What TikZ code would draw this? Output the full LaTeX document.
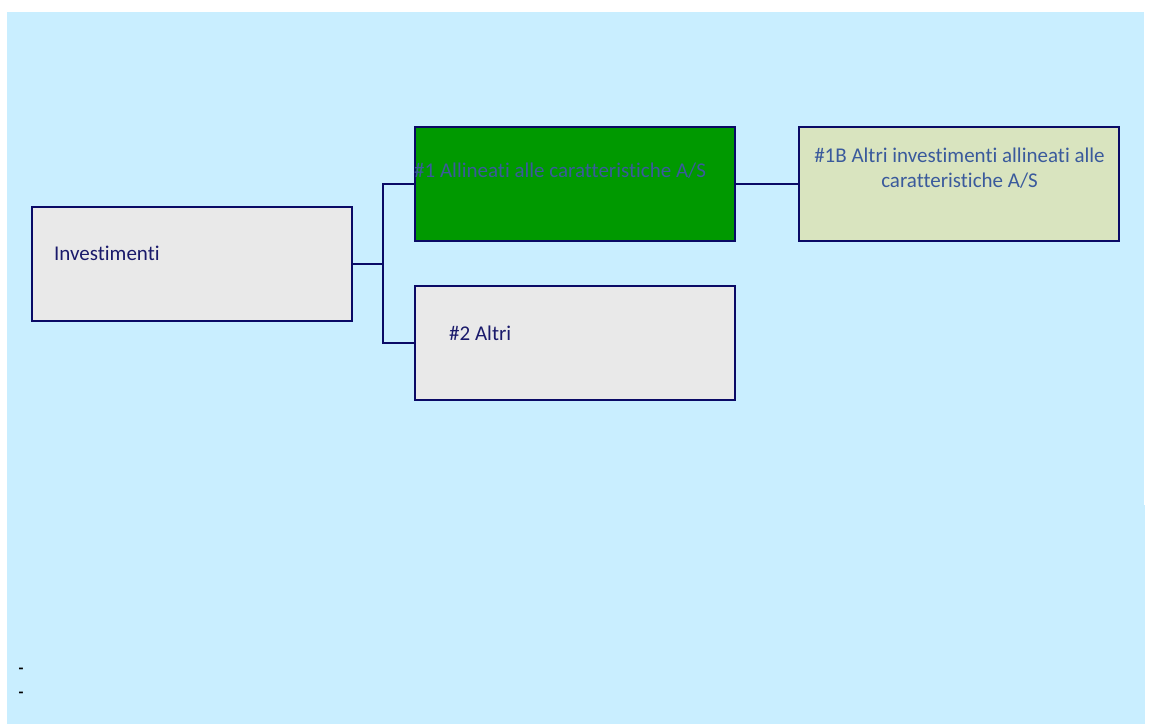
\documentclass[tikz,border=0pt]{standalone}
\usepackage{fontspec}
\setmainfont{Carlito}[Ligatures={NoCommon}]
\definecolor{bgblue}{HTML}{C9EEFF}
\definecolor{navy}{HTML}{0A0A66}
\definecolor{boxgrey}{HTML}{E9E9E9}
\definecolor{boxgreen}{HTML}{009900}
\definecolor{boxolive}{HTML}{D9E4BF}
\definecolor{txtnavy}{HTML}{1A1A6B}
\definecolor{txtblue}{HTML}{3A5A9C}
\tikzset{
  box/.style={draw=navy, line width=2pt, rectangle, minimum width=320pt, minimum height=114pt, inner sep=0pt, outer sep=0pt},
  conn/.style={draw=navy, line width=2pt},
  lbl/.style={font=\fontsize{21}{24.5}\selectfont, inner sep=0pt},
  dashmark/.style={font=\fontsize{16}{18}\selectfont\bfseries, inner sep=0pt, text=black}
}
\begin{document}
\begin{tikzpicture}[x=1pt,y=-1pt]
\useasboundingbox (0,0) rectangle (1149,724);
\fill[white] (0,0) rectangle (1149,724);
\fill[bgblue] (7,12) rectangle (1144,724);
\fill[bgblue] (7,505) rectangle (1145,724);
% boxes
\node[box, fill=boxgrey] (inv) at (192,264) {};
\node[box, fill=boxgreen] (a1) at (575,184) {};
\node[box, fill=boxolive] (a1b) at (959,184) {};
\node[box, fill=boxgrey] (a2) at (575,343) {};
% texts
\node[lbl, text=txtnavy, anchor=west] (invt) at (54,253.5) {Investimenti};
\node[lbl, text=txtblue, anchor=west] (a1t) at (414,171) {\#1 Allineati alle caratteristiche A/S};
\node[lbl, text=txtblue, align=center] (a1bt) at (959.5,168) {\#1B Altri investimenti allineati alle\\caratteristiche A/S};
\node[lbl, text=txtnavy, anchor=west] (a2t) at (449,333) {\#2 Altri};
% connectors
\coordinate (j) at (383,264);
\draw[conn] (inv.east) -- (j);
\draw[conn] (a1.west) -| (j) |- (a2.west);
\draw[conn] (a1.east) -- (a1b.west);
% dashes
\node[dashmark] (d1) at (21,671) {-};
\node[dashmark] (d2) at (21,695) {-};
\end{tikzpicture}
\end{document}
